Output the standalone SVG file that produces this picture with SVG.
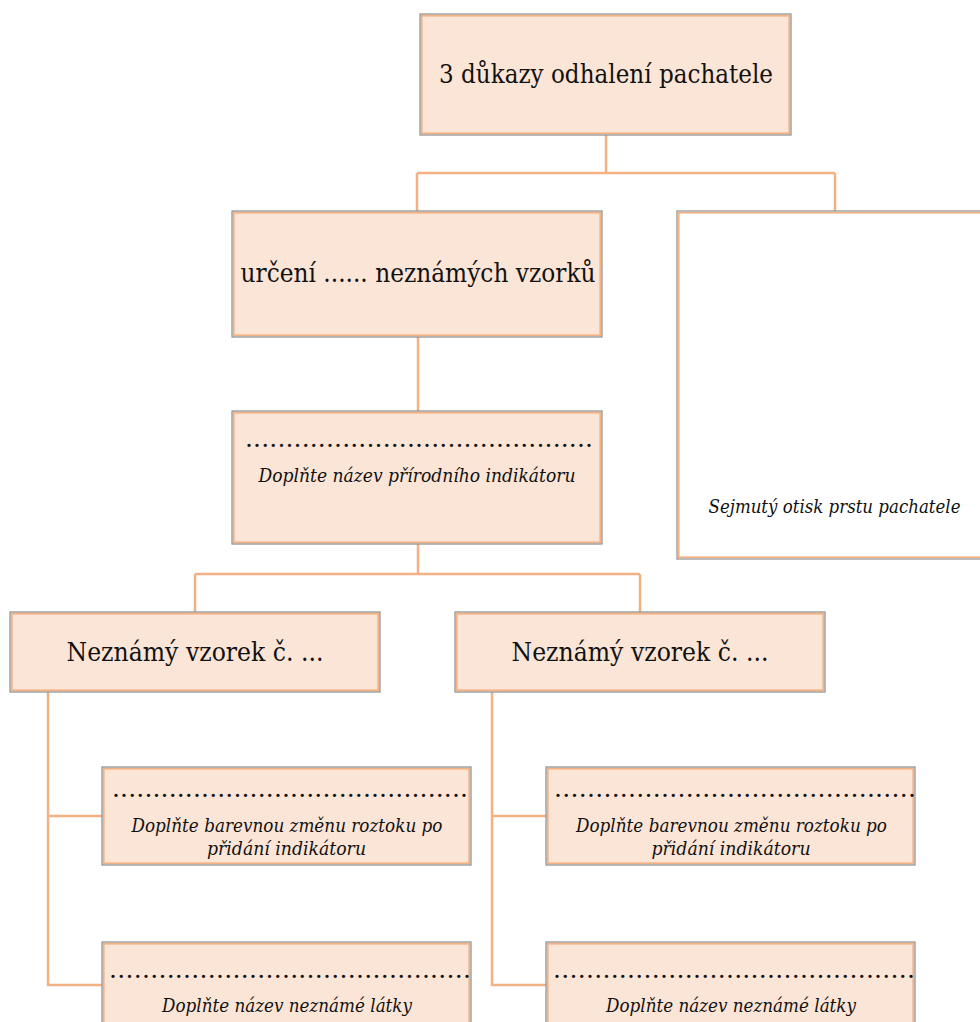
<svg xmlns="http://www.w3.org/2000/svg" width="980" height="1022" viewBox="0 0 980 1022">
<style>
.box{fill:#fbe5d6;stroke:#8c8c8c;stroke-width:1.2}
.inner{fill:none;stroke:#f4b183;stroke-width:1.6}
.wbox{fill:#ffffff;stroke:#8c8c8c;stroke-width:1.2}
.con{fill:none;stroke:#f4b183;stroke-width:2.5}
.big{font-family:"DejaVu Serif",serif;font-size:26px;fill:#111;text-anchor:middle}
.it{font-family:"DejaVu Serif",serif;font-size:19px;font-style:italic;fill:#111;text-anchor:middle}
.dots{font-family:"DejaVu Serif",serif;font-size:25px;fill:#111}
</style>
<rect width="980" height="1022" fill="#ffffff"/>
<g id="connectors">
<path class="con" d="M606,135 V173 M417,173 H835 M417,173 V211 M835,173 V211"/>
<path class="con" d="M418,337 V411"/>
<path class="con" d="M418,544 V574 M195,574 H640 M195,574 V612 M640,574 V612"/>
<path class="con" d="M48,692 V985 H102 M48,816 H102"/>
<path class="con" d="M492,692 V985 H546 M492,816 H546"/>
</g>
<g id="root">
<rect class="box" x="420" y="14" width="371" height="121"/>
<rect class="inner" x="421.8" y="15.8" width="367.4" height="117.4"/>
<text class="big" x="606" y="83" textLength="334" lengthAdjust="spacingAndGlyphs">3 důkazy odhalení pachatele</text>
</g>
<g id="urceni">
<rect class="box" x="232" y="211" width="370" height="126"/>
<rect class="inner" x="233.8" y="212.8" width="366.4" height="122.4"/>
<text class="big" x="418" y="282" textLength="355" lengthAdjust="spacingAndGlyphs">určení ...... neznámých vzorků</text>
</g>
<g id="indikator">
<rect class="box" x="232" y="411" width="370" height="133"/>
<rect class="inner" x="233.8" y="412.8" width="366.4" height="129.4"/>
<text class="dots" x="245" y="447" textLength="348" lengthAdjust="spacing">...........................................</text>
<text class="it" x="417" y="482" textLength="317" lengthAdjust="spacingAndGlyphs">Doplňte název přírodního indikátoru</text>
</g>
<g id="otisk">
<rect class="wbox" x="677" y="211" width="305" height="348"/>
<rect class="inner" x="678.8" y="212.8" width="303" height="344.4"/>
<text class="it" x="834.5" y="513" textLength="252" lengthAdjust="spacingAndGlyphs">Sejmutý otisk prstu pachatele</text>
</g>
<g id="vzorek1">
<rect class="box" x="10" y="612" width="370" height="80"/>
<rect class="inner" x="11.8" y="613.8" width="366.4" height="76.4"/>
<text class="big" x="195" y="661" textLength="257" lengthAdjust="spacingAndGlyphs">Neznámý vzorek č. ...</text>
</g>
<g id="vzorek2">
<rect class="box" x="455" y="612" width="370" height="80"/>
<rect class="inner" x="456.8" y="613.8" width="366.4" height="76.4"/>
<text class="big" x="640" y="661" textLength="257" lengthAdjust="spacingAndGlyphs">Neznámý vzorek č. ...</text>
</g>
<g id="zmena1">
<rect class="box" x="102" y="767" width="369" height="98"/>
<rect class="inner" x="103.8" y="768.8" width="365.4" height="94.4"/>
<text class="dots" x="112" y="797" textLength="356" lengthAdjust="spacing">............................................</text>
<text class="it" x="287" y="832" textLength="311" lengthAdjust="spacingAndGlyphs">Doplňte barevnou změnu roztoku po</text>
<text class="it" x="286.5" y="855" textLength="159" lengthAdjust="spacingAndGlyphs">přidání indikátoru</text>
</g>
<g id="latka1">
<rect class="box" x="102" y="942" width="369" height="100"/>
<rect class="inner" x="103.8" y="943.8" width="365.4" height="96.4"/>
<text class="dots" x="109" y="978" textLength="362" lengthAdjust="spacing">............................................</text>
<text class="it" x="287" y="1012" textLength="250" lengthAdjust="spacingAndGlyphs">Doplňte název neznámé látky</text>
</g>
<g id="zmena2">
<rect class="box" x="546" y="767" width="369" height="98"/>
<rect class="inner" x="547.8" y="768.8" width="365.4" height="94.4"/>
<text class="dots" x="554" y="797" textLength="362" lengthAdjust="spacing">............................................</text>
<text class="it" x="731.5" y="832" textLength="311" lengthAdjust="spacingAndGlyphs">Doplňte barevnou změnu roztoku po</text>
<text class="it" x="731" y="855" textLength="159" lengthAdjust="spacingAndGlyphs">přidání indikátoru</text>
</g>
<g id="latka2">
<rect class="box" x="546" y="942" width="369" height="100"/>
<rect class="inner" x="547.8" y="943.8" width="365.4" height="96.4"/>
<text class="dots" x="553" y="978" textLength="362" lengthAdjust="spacing">............................................</text>
<text class="it" x="731" y="1012" textLength="250" lengthAdjust="spacingAndGlyphs">Doplňte název neznámé látky</text>
</g>
</svg>
